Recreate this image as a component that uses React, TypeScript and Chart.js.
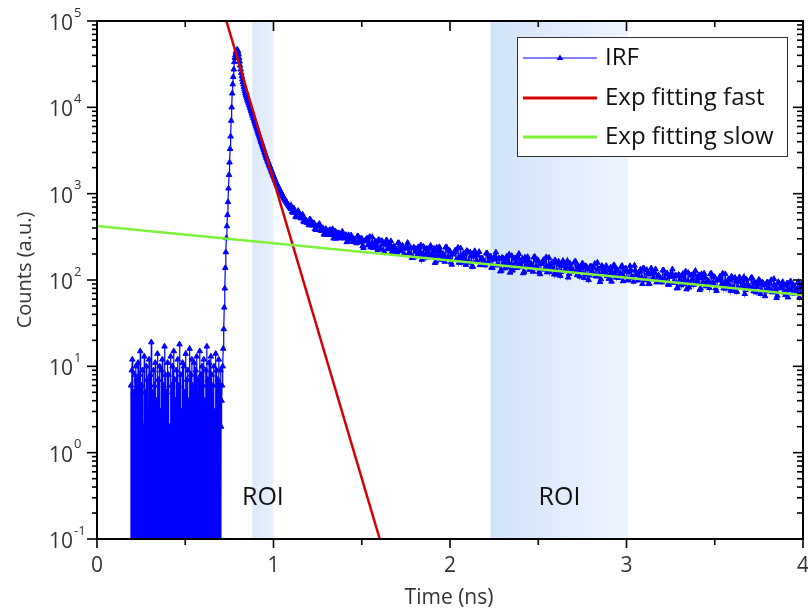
import React, { useEffect, useRef } from "react";
import { Chart, registerables } from "chart.js";

Chart.register(...registerables);

// ---------- data ----------
const seriesLabels = ["IRF", "Exp fitting fast", "Exp fitting slow"];

// IRF: pre-pulse background counts (time grid start / step in ns)
const noiseStart = 0.19;
const noiseStep = 0.0025;
const noiseCounts = [
  0, 6, 0, 9, 12, 0, 0, 5, 0, 8, 0, 3, 10, 0, 7, 0, 0, 11, 0, 4,
  8, 0, 15, 0, 0, 6, 0, 9, 0, 2, 0, 13, 0, 5, 0, 0, 10, 0, 7, 0,
  3, 0, 12, 0, 0, 8, 0, 19, 0, 5, 0, 0, 9, 0, 6, 0, 11, 0, 0, 4,
  0, 14, 0, 7, 0, 0, 10, 0, 3, 0, 9, 0, 12, 0, 0, 6, 0, 17, 0, 8,
  0, 0, 5, 0, 11, 0, 8, 0, 2, 0, 0, 13, 0, 6, 0, 10, 0, 0, 15, 0,
  7, 0, 4, 0, 9, 0, 0, 12, 0, 6, 0, 18, 0, 0, 8, 0, 3, 0, 11, 0,
  0, 10, 0, 5, 0, 14, 0, 0, 7, 0, 9, 0, 4, 0, 16, 0, 0, 8, 0, 12,
  0, 6, 0, 0, 11, 0, 3, 0, 9, 0, 13, 0, 0, 7, 0, 5, 0, 15, 0, 8,
  0, 0, 10, 0, 6, 0, 12, 0, 4, 0, 0, 9, 0, 17, 0, 7, 0, 0, 11, 0,
  5, 0, 13, 0, 8, 0, 0, 6, 0, 10, 0, 3, 0, 14, 0, 9, 0, 0, 7, 0,
  12, 0, 6, 0, 9, 0,
];
// zero counts have no place on a log axis: they are drawn below its floor
const zeroCountFloor = 0.01;

// IRF: rise, peak and fast decay
const riseStart = 0.703;
const riseStep = 0.003;
const riseCounts = [
  2, 4, 6, 10, 16, 27, 48, 80, 138, 210,
  306, 420, 566, 800, 1150, 1650, 2300, 3300, 4600, 7000,
  10000, 14500, 18500, 22500, 27500, 33500, 37500, 40500, 43500, 45500,
  46500, 46200, 44000, 41000, 37500, 34000, 30500, 27500, 25000, 23000,
  21200, 19700, 18400, 17200, 16200, 15300, 14500, 13900, 13300, 12700,
  12150, 11650, 11150, 10700, 10250, 9800, 9400, 9000, 8600, 8250,
  7900, 7550, 7250, 6950, 6650, 6350, 6100, 5850, 5600, 5350,
  5100, 4900, 4700, 4500, 4300, 4100, 3950, 3800, 3630, 3480,
  3330, 3190, 3050, 2920, 2800, 2680, 2580, 2490, 2400, 2310,
  2230, 2150, 2070, 2000, 1920, 1850, 1790, 1720, 1660, 1600,
  1550, 1490, 1440, 1390, 1340, 1300, 1265, 1230, 1195, 1160,
  1130, 1100, 1070, 1040, 1010, 985, 960, 935, 912, 890,
  868, 848, 828, 808, 790, 772, 756, 740, 725, 710,
  696, 682, 668,
];

// IRF: slow tail, channels on the 0.01 ns grid
const tailStart = 1.1;
const tailStep = 0.01;
const tailCounts = [
  725, 602, 633, 533, 633, 539, 557, 476, 500, 461,
  432, 498, 428, 456, 381, 416, 448, 372, 399, 335,
  383, 333, 381, 346, 303, 368, 320, 348, 305, 364,
  306, 333, 279, 312, 330, 278, 296, 267, 320, 277,
  302, 235, 282, 304, 253, 239, 312, 258, 280, 223,
  290, 227, 263, 208, 290, 234, 261, 211, 243, 219,
  208, 269, 217, 252, 196, 233, 270, 205, 235, 180,
  233, 189, 241, 210, 172, 243, 197, 229, 186, 250,
  192, 231, 164, 214, 241, 172, 201, 163, 241, 185,
  215, 151, 200, 221, 171, 159, 234, 181, 204, 150,
  215, 159, 191, 143, 217, 168, 194, 149, 179, 157,
  148, 205, 158, 189, 138, 175, 209, 149, 178, 128,
  179, 137, 186, 156, 122, 190, 146, 179, 138, 201,
  147, 177, 125, 165, 185, 132, 154, 125, 186, 143,
  167, 117, 154, 171, 133, 123, 181, 141, 159, 116,
  163, 116, 152, 125, 167, 129, 144, 107, 155, 132,
  124, 165, 114, 142, 126, 156, 106, 145, 134, 113,
  143, 120, 154, 110, 133, 95, 146, 122, 135, 111,
  103, 140, 121, 149, 107, 128, 111, 142, 97, 130,
  125, 101, 145, 110, 96, 129, 117, 104, 133, 90,
  135, 99, 120, 90, 137, 105, 122, 94, 113, 99,
  94, 130, 100, 120, 88, 110, 133, 95, 113, 81,
  113, 87, 118, 100, 78, 121, 93, 114, 88, 128,
  94, 114, 80, 106, 119, 85, 99, 81, 119, 92,
  108, 75, 100, 110, 86, 80, 117, 91, 102, 75,
  106, 75, 98, 81, 108, 84, 93, 69, 101, 85,
  80, 107, 74, 92, 83, 101, 69, 94, 87, 74,
  94, 78, 100, 72, 86, 62, 95, 80, 89, 72,
  67, 92, 79, 97, 70, 85, 73, 93, 63, 85,
  82,
];

// IRF: slow tail, the channels in between (offset by half a step)
const tailMidStart = 1.105;
const tailMidStep = 0.01;
const tailMidCounts = [
  619, 677, 543, 593, 594, 518, 573, 468, 492, 463,
  505, 434, 452, 390, 421, 432, 376, 400, 338, 391,
  358, 373, 332, 389, 331, 302, 350, 329, 347, 304,
  322, 275, 332, 295, 313, 276, 288, 320, 273, 301,
  247, 283, 294, 254, 318, 262, 236, 276, 247, 291,
  233, 284, 209, 257, 270, 228, 282, 213, 242, 226,
  268, 219, 246, 196, 232, 250, 204, 235, 181, 239,
  213, 229, 193, 253, 198, 179, 230, 209, 235, 190,
  215, 158, 237, 191, 218, 173, 194, 238, 178, 221,
  160, 198, 210, 171, 237, 182, 159, 201, 172, 218,
  163, 209, 143, 187, 200, 162, 212, 150, 176, 163,
  203, 160, 184, 139, 173, 190, 148, 177, 126, 181,
  158, 175, 140, 198, 149, 129, 177, 159, 184, 142,
  164, 120, 182, 147, 167, 133, 149, 183, 137, 171,
  124, 153, 162, 133, 184, 141, 124, 156, 133, 170,
  127, 164, 112, 146, 157, 127, 166, 118, 139, 129,
  161, 126, 146, 110, 137, 150, 117, 140, 100, 144,
  125, 139, 111, 159, 118, 102, 141, 126, 146, 113,
  131, 96, 145, 117, 133, 106, 119, 146, 109, 137,
  99, 123, 130, 106, 147, 114, 99, 125, 107, 137,
  102, 131, 90, 118, 125, 102, 133, 95, 111, 104,
  129, 102, 117, 89, 109, 121, 93, 112, 80, 115,
  101, 111, 90, 126, 95, 82, 113, 101, 117, 91,
  106, 77, 117, 94, 108, 85, 96, 117, 88, 109,
  80, 99, 104, 86, 119, 91, 80, 100, 86, 110,
  82, 106, 73, 95, 102, 82, 108, 77, 90, 84,
  105, 82, 95, 72, 89, 98, 76, 91, 65, 93,
  81, 91, 73, 103, 77, 66, 92, 83, 95, 74,
  86, 63, 94, 77, 88, 70, 78, 95, 72, 90,
];

// exponential fits (straight lines on the log axis)
const fastFitTimes = [0.733, 1.602];
const fastFitCounts = [100000, 0.1];
const slowFitTimes = [0, 4];
const slowFitCounts = [422, 67];

// regions of interest (ns)
const roiStarts = [0.88, 2.23];
const roiEnds = [1.0, 3.01];
const roiLabel = "ROI";
const roiLabelValue = 0.3;

// axes
const xMin = 0;
const xMax = 4;
const yMin = 0.1;
const yMax = 100000;
const xTickLabels = ["0", "1", "2", "3", "4"];
const xMinorTicks = [0.5, 1.5, 2.5, 3.5];
const yExponents = [-1, 0, 1, 2, 3, 4, 5];
const xTitle = "Time (ns)";
const yTitle = "Counts (a.u.)";

// ---------- helpers ----------
function segmentPoints(start: number, step: number, counts: number[]) {
  return counts.map((c, i) => ({
    x: +(start + i * step).toFixed(4),
    y: c > 0 ? c : zeroCountFloor,
  }));
}
function pairPoints(xs: number[], ys: number[]) {
  return xs.map((x, i) => ({ x, y: ys[i] }));
}

const FONT = '"Open Sans", "Noto Sans", sans-serif';
const IRF_COLOR = "#0000ff";
const FAST_COLOR = "#d40000";
const SLOW_COLOR = "#7df23a";
const ROI_COLORS: [string, string][] = [
  ["#dde8f9", "#e8f0fc"],
  ["#d2e3f9", "#eef4fe"],
];

function drawTriangle(ctx: CanvasRenderingContext2D, x: number, y: number, r: number) {
  ctx.beginPath();
  ctx.moveTo(x, y - r);
  ctx.lineTo(x + r * 0.95, y + r * 0.6);
  ctx.lineTo(x - r * 0.95, y + r * 0.6);
  ctx.closePath();
  ctx.fill();
}

const decorPlugin = {
  id: "decor",
  beforeDatasetsDraw(chart: any) {
    const { ctx, chartArea: a, scales } = chart;
    const xs = scales.x;
    const ys = scales.y;
    ctx.save();
    roiStarts.forEach((t0, i) => {
      const x0 = xs.getPixelForValue(t0);
      const x1 = xs.getPixelForValue(roiEnds[i]);
      const g = ctx.createLinearGradient(x0, 0, x1, 0);
      g.addColorStop(0, ROI_COLORS[i][0]);
      g.addColorStop(1, ROI_COLORS[i][1]);
      ctx.fillStyle = g;
      ctx.fillRect(x0, a.top, x1 - x0, a.bottom - a.top);
      ctx.fillStyle = "#111";
      ctx.font = `25px ${FONT}`;
      ctx.textAlign = "center";
      ctx.textBaseline = "middle";
      ctx.fillText(roiLabel, (x0 + x1) / 2, ys.getPixelForValue(roiLabelValue));
    });
    ctx.restore();
  },
  afterDraw(chart: any) {
    const { ctx, chartArea: a, scales } = chart;
    const xs = scales.x;
    const ys = scales.y;
    ctx.save();
    // frame
    ctx.strokeStyle = "#000";
    ctx.lineWidth = 2;
    ctx.strokeRect(a.left, a.top, a.right - a.left, a.bottom - a.top);

    ctx.lineWidth = 1.6;
    const line = (x1: number, y1: number, x2: number, y2: number) => {
      ctx.beginPath();
      ctx.moveTo(x1, y1);
      ctx.lineTo(x2, y2);
      ctx.stroke();
    };
    // y ticks
    yExponents.forEach((e) => {
      const py = ys.getPixelForValue(Math.pow(10, e));
      line(a.left - 10, py, a.left, py);
      line(a.right, py, a.right - 10, py);
      if (e < yExponents[yExponents.length - 1]) {
        for (let k = 2; k <= 9; k++) {
          const my = ys.getPixelForValue(k * Math.pow(10, e));
          line(a.left - 5, my, a.left, my);
          line(a.right, my, a.right - 6, my);
        }
      }
    });
    // x ticks
    xTickLabels.forEach((lab) => {
      const px = xs.getPixelForValue(Number(lab));
      line(px, a.bottom, px, a.bottom + 9);
      line(px, a.top, px, a.top + 10);
    });
    xMinorTicks.forEach((v) => {
      const px = xs.getPixelForValue(v);
      line(px, a.bottom, px, a.bottom + 6);
      line(px, a.top, px, a.top + 6);
    });

    // tick labels
    ctx.fillStyle = "#333";
    ctx.textBaseline = "middle";
    yExponents.forEach((e) => {
      const py = ys.getPixelForValue(Math.pow(10, e));
      ctx.font = `21px ${FONT}`;
      ctx.textAlign = "right";
      ctx.fillText("10", 73, py + 3);
      ctx.font = `13px ${FONT}`;
      ctx.textAlign = "left";
      ctx.fillText(String(e), 74, py - 8);
    });
    ctx.font = `21px ${FONT}`;
    ctx.textAlign = "center";
    xTickLabels.forEach((lab) => {
      ctx.fillText(lab, xs.getPixelForValue(Number(lab)), 566);
    });
    // titles
    ctx.font = `21px ${FONT}`;
    ctx.fillText(xTitle, (a.left + a.right) / 2 - 1, 598);
    ctx.save();
    ctx.translate(25, 270);
    ctx.rotate(-Math.PI / 2);
    ctx.font = `20px ${FONT}`;
    ctx.fillText(yTitle, 0, 0);
    ctx.restore();

    // legend
    const bx = 517, by = 37, bw = 270, bh = 119;
    ctx.fillStyle = "#fff";
    ctx.fillRect(bx, by, bw, bh);
    ctx.strokeStyle = "#333";
    ctx.lineWidth = 1;
    ctx.strokeRect(bx + 0.5, by + 0.5, bw, bh);
    const rows = [58, 98, 137];
    chart.data.datasets.forEach((ds: any, i: number) => {
      const y = rows[i];
      ctx.strokeStyle = ds.borderColor;
      ctx.lineWidth = i === 0 ? 1 : 3;
      line(523, y, 597, y);
      if (i === 0) {
        ctx.fillStyle = ds.borderColor;
        drawTriangle(ctx, 560, y, 3.5);
      }
      ctx.fillStyle = "#111";
      ctx.font = `24px ${FONT}`;
      ctx.textAlign = "left";
      ctx.textBaseline = "middle";
      ctx.fillText(ds.label, 605, y);
    });
    ctx.restore();
  },
};

export default function App() {
  const ref = useRef<HTMLCanvasElement | null>(null);
  useEffect(() => {
    document.body.style.margin = "0";
    const canvas = ref.current;
    if (!canvas) return;
    const irf = [
      ...segmentPoints(noiseStart, noiseStep, noiseCounts),
      ...segmentPoints(riseStart, riseStep, riseCounts),
      ...segmentPoints(tailStart, tailStep, tailCounts),
      ...segmentPoints(tailMidStart, tailMidStep, tailMidCounts),
    ].sort((p, q) => p.x - q.x);
    const chart = new Chart(canvas, {
      type: "line",
      data: {
        datasets: [
          {
            label: seriesLabels[0],
            data: irf,
            borderColor: IRF_COLOR,
            backgroundColor: IRF_COLOR,
            borderWidth: 1.2,
            pointStyle: "triangle",
            pointRadius: 3.2,
            pointBorderWidth: 1,
            pointBackgroundColor: IRF_COLOR,
            pointBorderColor: IRF_COLOR,
            order: 2,
          },
          {
            label: seriesLabels[1],
            data: pairPoints(fastFitTimes, fastFitCounts),
            borderColor: FAST_COLOR,
            borderWidth: 2.5,
            pointRadius: 0,
            order: 1,
          },
          {
            label: seriesLabels[2],
            data: pairPoints(slowFitTimes, slowFitCounts),
            borderColor: SLOW_COLOR,
            borderWidth: 2.5,
            pointRadius: 0,
            order: 0,
          },
        ],
      },
      options: {
        animation: false,
        responsive: false,
        devicePixelRatio: 1,
        events: [],
        layout: { padding: { left: 97, right: 2, top: 21, bottom: 75 } },
        scales: {
          x: { type: "linear", min: xMin, max: xMax, display: false },
          y: { type: "logarithmic", min: yMin, max: yMax, display: false },
        },
        plugins: {
          legend: { display: false },
          tooltip: { enabled: false },
        },
      },
      plugins: [decorPlugin],
    } as any);
    return () => chart.destroy();
  }, []);
  return <canvas ref={ref} width={808} height={614} style={{ display: "block" }} />;
}
